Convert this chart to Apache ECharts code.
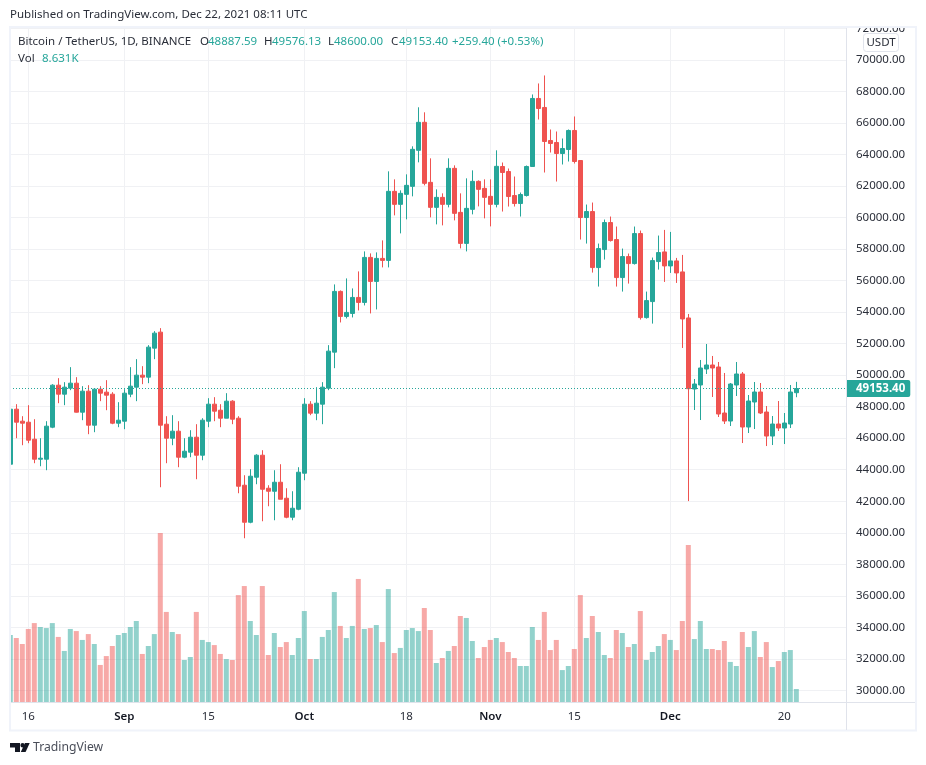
<!DOCTYPE html>
<html>
<head>
<meta charset="utf-8">
<title>BTCUSDT</title>
<style>
  html, body { margin: 0; padding: 0; background: #fff; }
  #main { width: 926px; height: 765px; }
</style>
<script src="https://cdn.jsdelivr.net/npm/echarts@6/dist/echarts.min.js"></script>
</head>
<body>
<div id="main"></div>
<script>
// daily rows: open, high, low, close., first row is Aug 13
const augQuotes = [
  [44350,47884,44245,47842],[47842,48159,46000,47016],[47080,47397,45556,46953],[47016,48096,45683,45874],
  [45937,47207,44414,44668],[44668,46000,44223,44731],[44668,47080,43970,46763],[46699,49429,46636,49365],
  [49365,49810,48222,48794],[48794,49556,48096,49238],[49175,50508,49048,49492],[49492,49873,47630,47651],
  [47651,49302,47143,48984],[48984,49365,46255,46826],[46826,49111,46382,49111],[49111,49302,48350,48857],
  [48921,49683,47778,48730],[48794,48921,46889,46953],[46953,48286,46699,47143]
]
const sepQuotes = [
  [47080,49111,46572,48857],[48794,50508,48603,49302],[49238,51016,48350,50000],[50000,50571,49429,49873],
  [49873,51904,49492,51777],[51714,52793,51016,52666],[52730,52984,42890,46826],[46889,47397,44414,46000],
  [46000,47461,45556,46445],[46445,47080,44160,44795],[44795,46000,44731,45175],[45112,46509,44795,46064],
  [46064,46889,43398,44922],[44922,47270,44604,47143],[47080,48540,46699,48159],[48159,48603,47080,47715],
  [47778,48159,46699,47270],[47270,48857,47270,48350],[48350,48413,46889,47207],[47270,47397,42509,42954],
  [43017,43652,39653,40668],[40668,44033,40605,43589],[43525,44985,43081,44922],[44922,45239,40732,42763],
  [42827,43017,41684,42636],[42636,43969,40795,43207],[43207,44350,42129,42129],[42192,42827,40922,40986],
  [40986,42636,40795,41557],[41494,44160,41430,43842]
]
const octQuotes = [
  [43779,48540,43335,48159],[48159,48350,47461,47588],[47588,49238,47143,48223],[48159,49556,46889,49238],
  [49175,51904,49048,51524],[51460,55757,50444,55313],[55313,55376,53345,53726],[53726,56138,53599,53980],
  [53916,55504,53662,54932],[54932,56583,54107,54615],[54615,57852,54424,57471],[57471,57725,53916,55948],
  [55948,57789,54170,57408],[57408,58551,56837,57281],[57281,62931,56837,61661],[61661,62423,60138,60836],
  [60836,61725,58995,61534],[61471,62740,59884,62042],[61978,64518,61344,64327],[64264,66994,63502,66041],
  [66041,66676,62042,62169],[62232,63756,60011,60645],[60645,61788,59566,61280],[61280,61534,59503,60836],
  [60836,63756,60645,63121],[63121,63312,59820,60265],[60328,61534,58043,58360],[58360,62486,57852,60582],
  [60518,62994,60201,62296],[62296,62359,60709,61788],[61851,62423,59947,61280]
]
const novQuotes = [
  [61344,62423,59439,60836],[60836,64264,60645,63248],[63237,63491,60381,62857],[62920,63111,60698,61333],
  [61397,62603,60698,60889],[60889,61587,60063,61460],[61397,63301,61333,63237],[63237,67808,63237,67554],
  [67554,68506,66221,66919],[66983,69014,62857,64824],[64888,65586,64126,64698],[64761,65459,62285,64063],
  [64063,65015,63364,64380],[64317,65586,63555,65523],[65523,66411,63428,63555],[63618,63618,58603,60000],
  [60000,60825,58349,60381],[60381,60952,56509,56826],[56826,58349,55620,58032],[57969,59873,57334,59683],
  [59683,60063,58476,58540],[58603,59429,55620,56191],[56191,58032,55302,57524],[57524,57715,55810,57080],
  [57080,59429,57016,58984],[58984,59175,53525,53652],[53652,55302,53588,54731],[54668,57461,53271,57270],
  [57207,58857,56699,57778],[57818,59215,55914,56930]
]
const decQuotes = [
  [56930,59088,56486,57248],[57248,57438,55851,56486],[56550,57628,51725,53566],[53629,53883,42012,49143],
  [49122,49757,47789,49439],[49376,50963,47154,50455],[50391,51978,50074,50645],[50645,51217,48614,50455],
  [50518,50836,47344,47535],[47598,50138,46900,47090],[47090,49503,46773,49439],[49376,50836,48678,50074],
  [50074,50201,45694,46710],[46710,48741,46329,48360],[48297,49566,46583,48931],[48931,49503,47535,47598],
  [47662,48043,45503,46138],[46138,47408,45567,46900],[46900,48360,46456,46646],[46646,47598,45630,46963],
  [46900,49376,46646,48931],[48887.59,49576.13,48600,49153.40]
]

// volume in thousand BTC
const augVolume = [44.5,42.5,38.5,48.5,52.4,49.8,49.1,52.4,43.2,33.9,48.5,47.1,41.2,45.1,38.5,24.6,30.5,37.2,44.5]
const sepVolume = [45.8,49.8,53.8,31.9,37.2,45.1,112.2,59.8,46.5,45.1,27.9,29.9,59.8,41.2,39.8,37.8,31.9,28.5,27.9,71.0,77.0,53.8,44.5,77.0,31.2,45.8,36.5,39.8,31.2,42.5]
const octVolume = [60.4,28.5,28.5,43.2,47.8,73.0,50.5,42.5,50.5,81.7,48.5,49.1,51.1,39.8,75.0,32.5,35.9,47.8,49.1,47.1,62.4,47.8,25.9,29.2,33.9,37.2,57.1,55.8,40.5,29.2,36.5]
const novVolume = [41.2,42.5,39.8,33.2,29.2,23.9,23.9,49.8,41.2,59.8,34.5,41.2,21.2,23.9,35.2,71.0,42.5,57.1,46.5,31.2,29.2,47.8,45.8,36.5,38.5,60.4,27.9,33.2,37.2,45.1]
const decVolume = [41.2,34.5,53.8,104.2,41.8,53.8,35.2,35.2,34.5,40.5,26.6,23.9,46.5,36.5,47.1,29.9,39.8,23.2,27.2,33.2,34.5,8.631]

const priceTicks = [30000,32000,34000,36000,38000,40000,42000,44000,46000,48000,50000,52000,54000,56000,58000,60000,62000,64000,66000,68000,70000,72000]
const timeTicks = [3,19,33,49,66,80,94,110,129]
const timeLabels = ['16','Sep','15','Oct','18','Nov','15','Dec','20']
const lastPrice = 49153.40

const upColor = '#26a69a'
const downColor = '#ef5350'
const textColor = '#2a2e39'
const gridColor = '#f0f1f4'
const fontFamily = '"Noto Sans", sans-serif'

const quotes = [...augQuotes, ...sepQuotes, ...octQuotes, ...novQuotes, ...decQuotes]
const volumes = [...augVolume, ...sepVolume, ...octVolume, ...novVolume, ...decVolume]

const candleData = quotes.map((q, i) => [i, q[0], q[3], q[2], q[1]])
const volumeData = volumes.map((v, i) => ({
  value: [i, v],
  itemStyle: { color: quotes[i][3] < quotes[i][0] ? 'rgba(239,83,80,0.5)' : 'rgba(38,166,154,0.5)' }
}))

const label = (x, y, text, fill, extra) => ({
  type: 'text', z: 102, x, y,
  style: Object.assign({ text, fill, font: '11.5px ' + fontFamily, textVerticalAlign: 'middle' }, extra)
})
const frameLine = (x1, y1, x2, y2, stroke, lineWidth) => ({
  type: 'line', z: 101, shape: { x1, y1, x2, y2 }, style: { stroke, lineWidth }
})

const headerValues = [
  [200, 'O', textColor], [208, '48887.59', upColor],
  [264, 'H', textColor], [272, '49576.13', upColor],
  [328, 'L', textColor], [334, '48600.00', upColor],
  [391, 'C', textColor], [399, '49153.40', upColor],
  [452, '+259.40 (+0.53%)', upColor]
]

const chart = echarts.init(document.getElementById('main'))
chart.setOption({
  animation: false,
  backgroundColor: '#fff',
  textStyle: { fontFamily },
  grid: { left: 10, right: 80, top: 27, height: 675 },
  xAxis: {
    type: 'value',
    min: -0.05,
    max: 139.28,
    axisLine: { show: false },
    axisTick: { show: false, customValues: timeTicks },
    splitLine: { show: true, lineStyle: { color: gridColor, width: 1 } },
    axisLabel: {
      customValues: timeTicks,
      margin: 9,
      fontSize: 11.5,
      color: textColor,
      formatter: v => {
        const text = timeLabels[timeTicks.indexOf(v)]
        return /\d/.test(text) ? text : '{month|' + text + '}'
      },
      rich: { month: { fontSize: 11.5, fontWeight: 600, color: '#131722', fontFamily } }
    }
  },
  yAxis: [
    {
      type: 'value',
      position: 'right',
      min: 29265,
      max: 72088,
      axisLine: { show: false },
      axisTick: { show: false, customValues: priceTicks },
      splitLine: { show: true, lineStyle: { color: gridColor, width: 1 } },
      axisLabel: {
        customValues: priceTicks,
        margin: 10,
        fontSize: 11.5,
        color: textColor,
        formatter: v => v.toFixed(2)
      }
    },
    { type: 'value', show: false, min: 0, max: 448.2, splitLine: { show: false } }
  ],
  series: [
    {
      type: 'bar',
      yAxisIndex: 1,
      barWidth: 5,
      data: volumeData,
      z: 2
    },
    {
      type: 'candlestick',
      yAxisIndex: 0,
      barWidth: 4,
      z: 3,
      itemStyle: {
        color: upColor,
        color0: downColor,
        borderColor: upColor,
        borderColor0: downColor,
        borderWidth: 1
      },
      data: candleData,
      markLine: {
        silent: true,
        symbol: ['none', 'none'],
        lineStyle: { color: upColor, type: [1, 2], width: 1 },
        label: {
          show: true,
          position: 'end',
          distance: 1,
          formatter: () => lastPrice.toFixed(2),
          color: '#fff',
          fontSize: 11.5,
          fontWeight: 'bold',
          fontFamily,
          backgroundColor: upColor,
          padding: [3, 5, 2, 9],
          borderRadius: [0, 2, 2, 0]
        },
        data: [{ yAxis: lastPrice }]
      }
    }
  ],
  graphic: [
    // covers the part of the 72000 label and of the first candle that stick out of the pane
    { type: 'rect', z: 100, shape: { x: 0, y: 0, width: 926, height: 26 }, style: { fill: '#fff' } },
    { type: 'rect', z: 100, shape: { x: 0, y: 0, width: 9, height: 765 }, style: { fill: '#fff' } },
    frameLine(9, 27, 917, 27, '#f0f3fa', 2),
    frameLine(10, 27, 10, 731, '#f0f3fa', 2),
    frameLine(916, 27, 916, 731, '#f0f3fa', 2),
    frameLine(9, 730.5, 917, 730.5, '#f0f3fa', 2),
    frameLine(11, 702.5, 915, 702.5, '#e0e3eb', 1),
    frameLine(846.5, 28, 846.5, 730, '#e0e3eb', 1),
    label(10, 15, 'Published on TradingView.com, Dec 22, 2021 08:11 UTC', textColor),
    label(18, 41.5, 'Bitcoin / TetherUS, 1D, BINANCE', textColor),
    ...headerValues.map(h => label(h[0], 41.5, h[1], h[2])),
    label(18, 58.5, 'Vol', textColor),
    label(42, 58.5, '8.631K', upColor),
    {
      type: 'rect', z: 102,
      shape: { x: 863.5, y: 33.5, width: 35, height: 18, r: 3 },
      style: { fill: '#fff', stroke: '#e0e3eb', lineWidth: 1 }
    },
    label(881, 42.5, 'USDT', textColor, { textAlign: 'center' }),
    // logo
    { type: 'polygon', z: 102, shape: { points: [[10,743],[20,743],[20,752],[15,752],[15,747.5],[10,747.5]] }, style: { fill: '#131722' } },
    { type: 'circle', z: 102, shape: { cx: 22.6, cy: 745.2, r: 2.2 }, style: { fill: '#131722' } },
    { type: 'polygon', z: 102, shape: { points: [[25,743],[29.7,743],[25.6,752],[20.8,752]] }, style: { fill: '#131722' } },
    label(33, 747.5, 'TradingView', '#4a4e59', { font: '12.2px ' + fontFamily })
  ]
})
</script>
</body>
</html>
